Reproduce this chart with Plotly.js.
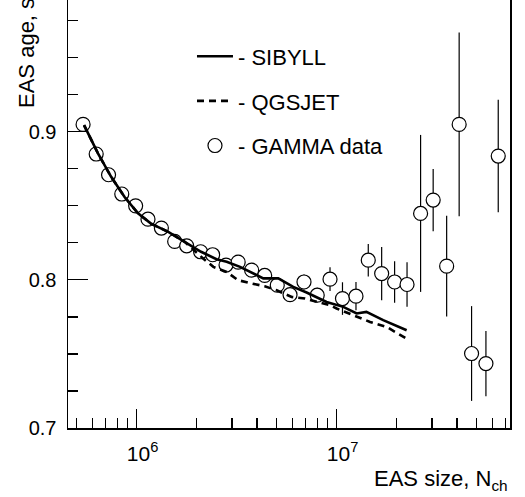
<!DOCTYPE html>
<html>
<head>
<meta charset="utf-8">
<script src="https://cdn.plot.ly/plotly-3.0.1.min.js"></script>
<style>html,body{margin:0;padding:0;background:#fff;}#chart{width:525px;height:497px;}</style>
</head>
<body>
<div id="chart"></div>
<script>
// GAMMA data
const gammaN = [5.40e5, 6.28e5, 7.24e5, 8.43e5, 9.89e5, 1.14e6, 1.33e6, 1.55e6, 1.78e6, 2.09e6, 2.40e6,
  2.80e6, 3.22e6, 3.76e6, 4.37e6, 5.05e6, 5.85e6, 6.87e6, 8.00e6, 9.27e6, 1.07e7, 1.25e7, 1.44e7,
  1.68e7, 1.95e7, 2.25e7, 2.63e7, 3.04e7, 3.55e7, 4.10e7, 4.73e7, 5.58e7, 6.43e7];
const gammaS = [0.905, 0.885, 0.871, 0.858, 0.850, 0.841, 0.835, 0.826, 0.823, 0.819, 0.817,
  0.810, 0.812, 0.8066, 0.803, 0.7964, 0.790, 0.7986, 0.7897, 0.8005, 0.7874, 0.789, 0.8133,
  0.8043, 0.7986, 0.7969, 0.8449, 0.8539, 0.8093, 0.905, 0.7503, 0.7435, 0.8836];
const gammaErr = [0.003, 0.003, 0.003, 0.003, 0.003, 0.003, 0.003, 0.003, 0.003, 0.003, 0.003,
  0.004, 0.004, 0.004, 0.004, 0.004, 0.004, 0.005, 0.005, 0.008, 0.011, 0.0095, 0.011,
  0.018, 0.014, 0.015, 0.053, 0.021, 0.034, 0.062, 0.032, 0.022, 0.038];

// SIBYLL simulation
const sibyllN = [5.46e5, 6.41e5, 7.46e5, 8.71e5, 1.016e6, 1.18e6, 1.44e6, 1.74e6, 2.10e6, 2.51e6, 2.82e6,
  3.29e6, 3.69e6, 4.30e6, 5.11e6, 6.07e6, 7.08e6, 8.91e6, 1.08e7, 1.26e7, 1.41e7, 1.71e7, 2.24e7];
const sibyllS = [0.9045, 0.8854, 0.8696, 0.856, 0.845, 0.838, 0.8324, 0.8257, 0.819, 0.814, 0.8122,
  0.8088, 0.8054, 0.801, 0.801, 0.7953, 0.7915, 0.7851, 0.7818, 0.7773, 0.7784, 0.7728, 0.766];

// QGSJET simulation
const qgsjetN = [5.46e5, 6.41e5, 7.46e5, 8.71e5, 1.016e6, 1.18e6, 1.44e6, 1.74e6, 2.15e6, 2.42e6, 2.82e6,
  3.22e6, 3.76e6, 4.37e6, 5.01e6, 5.96e6, 6.95e6, 9.27e6, 1.0e7, 1.26e7, 1.47e7, 1.78e7, 2.24e7];
const qgsjetS = [0.9045, 0.8854, 0.8696, 0.856, 0.845, 0.838, 0.8324, 0.8257, 0.8145, 0.8088, 0.8054,
  0.7998, 0.7976, 0.7957, 0.793, 0.7885, 0.7874, 0.7829, 0.7807, 0.775, 0.7716, 0.7682, 0.7604];

// axis ticks
const xTickVals = [1e6, 1e7];
const xTickText = ['10<sup>6</sup>', '10<sup>7</sup>'];
const xMinorVals = [5e5, 6e5, 7e5, 8e5, 9e5, 2e6, 3e6, 4e6, 5e6, 6e6, 7e6, 8e6, 9e6, 2e7, 3e7, 4e7, 5e7, 6e7, 7e7];
const yTickVals = [0.7, 0.8, 0.9];
const yTickText = ['0.7', '0.8', '0.9'];
const yMinorVals = [0.725, 0.75, 0.775, 0.825, 0.85, 0.875, 0.925, 0.95, 0.975];

const FONT = '"Liberation Sans", Arial, Helvetica, sans-serif';

const traces = [
  {
    x: gammaN, y: gammaS, type: 'scatter', mode: 'markers', name: '- GAMMA data',
    legendgroup: 'c', legendrank: 3,
    marker: {symbol: 'circle', size: 14, color: '#ffffff', line: {color: '#000', width: 1.2}},
    error_y: {type: 'data', array: gammaErr, visible: true, color: '#000', thickness: 1.2, width: 0}
  },
  {
    x: sibyllN, y: sibyllS, type: 'scatter', mode: 'lines', name: '- SIBYLL',
    legendgroup: 'a', legendrank: 1,
    line: {color: '#000', width: 2.6}
  },
  {
    x: qgsjetN, y: qgsjetS, type: 'scatter', mode: 'lines', name: '- QGSJET',
    legendgroup: 'b', legendrank: 2,
    line: {color: '#000', width: 2.6, dash: '7px,5px'}
  }
];

const layout = {
  width: 525, height: 497,
  margin: {l: 68, r: 15, t: 0, b: 69, pad: 0},
  paper_bgcolor: '#fff', plot_bgcolor: '#fff',
  font: {family: FONT, color: '#000', size: 20},
  showlegend: true,
  legend: {
    x: 0.2805, y: 0.917, xanchor: 'left', yanchor: 'top',
    font: {family: FONT, size: 22, color: '#000'},
    bgcolor: 'rgba(0,0,0,0)', borderwidth: 0,
    tracegroupgap: 13, itemwidth: 36
  },
  xaxis: {
    type: 'log', range: [5.657, 7.867],
    tickmode: 'array', tickvals: xTickVals, ticktext: xTickText,
    ticks: 'inside', ticklen: 19, tickwidth: 1.2, tickcolor: '#000',
    ticklabelshift: 6, ticklabelstandoff: 6,
    minor: {tickmode: 'array', tickvals: xMinorVals, ticks: 'inside', ticklen: 10, tickwidth: 1.2, tickcolor: '#000', showgrid: false},
    showline: true, linecolor: '#000', linewidth: 1.5, mirror: false,
    showgrid: false, zeroline: false,
    tickfont: {family: FONT, size: 21, color: '#000'}
  },
  yaxis: {
    range: [0.7, 0.989],
    tickmode: 'array', tickvals: yTickVals, ticktext: yTickText,
    ticks: 'inside', ticklen: 20, tickwidth: 1.2, tickcolor: '#000',
    ticklabelstandoff: 6,
    minor: {tickmode: 'array', tickvals: yMinorVals, ticks: 'inside', ticklen: 10, tickwidth: 1.2, tickcolor: '#000', showgrid: false},
    showline: true, linecolor: '#000', linewidth: 1.5, mirror: true,
    showgrid: false, zeroline: false,
    tickfont: {family: FONT, size: 20, color: '#000'}
  },
  annotations: [
    {
      text: 'EAS size, N<sub>ch</sub>', xref: 'paper', yref: 'paper', x: 1, y: 0,
      xanchor: 'right', yanchor: 'top', yshift: -36, showarrow: false,
      font: {family: FONT, size: 22, color: '#000'}
    },
    {
      text: 'EAS age, s', textangle: -90, xref: 'paper', yref: 'paper',
      x: -0.0928, y: 0.743, xanchor: 'center', yanchor: 'bottom', showarrow: false,
      font: {family: FONT, size: 22, color: '#000'}
    }
  ]
};

Plotly.newPlot('chart', traces, layout, {displayModeBar: false, staticPlot: true});
</script>
</body>
</html>
